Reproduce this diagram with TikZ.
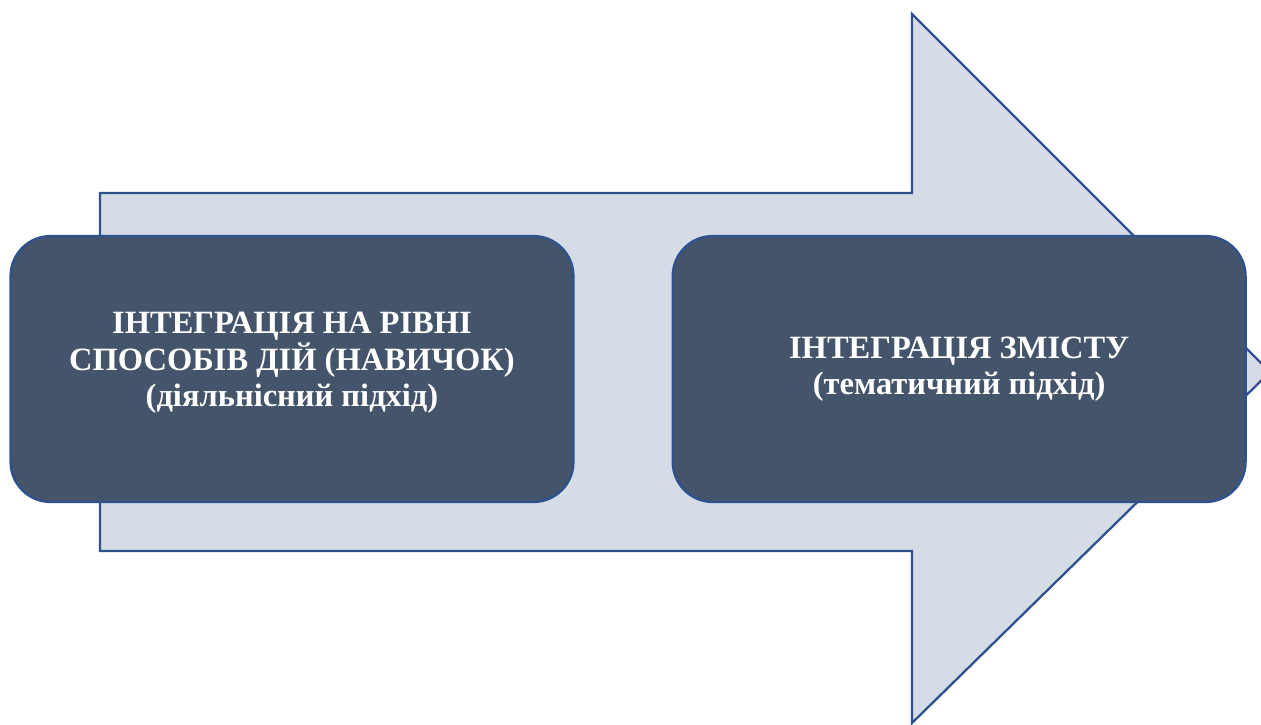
\documentclass[tikz,border=0pt]{standalone}
\usepackage{fontspec}
\setmainfont{Liberation Serif}
\usetikzlibrary{positioning}
\definecolor{boxfill}{HTML}{44546A}
\definecolor{arrowfill}{HTML}{D6DCE5}
\definecolor{edgeblue}{HTML}{2F528F}

\begin{document}
\begin{tikzpicture}[x=0.02cm,y=-0.02cm,node distance=1.94cm,
		line width=1.3pt]
		\tikzset{block/.style={rectangle,rounded corners=0.8cm,fill=boxfill,draw=edgeblue,
				text=white,font=\fontsize{18.5}{20.7}\selectfont\bfseries,align=center,
				minimum width=11.26cm,minimum height=5.32cm,inner sep=0pt}}
		
		\useasboundingbox (0,0) rectangle (1261,724);
		
		% big arrow behind the boxes
		\begin{scope}
		\clip (0,0) rectangle (1261,724);
		\draw[fill=arrowfill,draw=edgeblue,line join=miter]
		(100,193) -- (912,193) -- (912,14) -- (1270,372) -- (912,723)
		-- (912,551) -- (100,551) -- cycle;
		\end{scope}
		
		\node[block] (skills) at (292,369) {ІНТЕГРАЦІЯ НА РІВНІ\\СПОСОБІВ ДІЙ (НАВИЧОК)\\(діяльнісний підхід)\\[-10pt]};
		\node[block,minimum width=11.46cm] (content) [right=of skills] {ІНТЕГРАЦІЯ ЗМІСТУ\\(тематичний підхід)};
		\end{tikzpicture}
\end{document}
